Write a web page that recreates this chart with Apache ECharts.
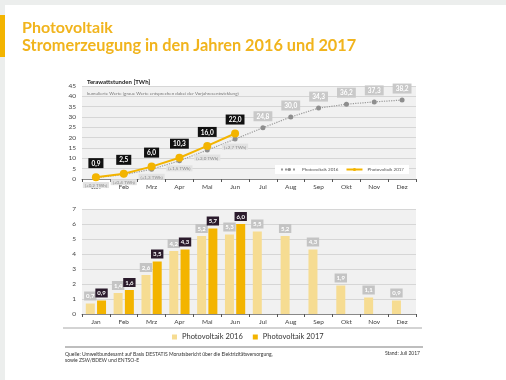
<!DOCTYPE html>
<html><head><meta charset="utf-8">
<script src="https://cdn.jsdelivr.net/npm/echarts@6/dist/echarts.min.js"></script>
<style>html,body{margin:0;padding:0;background:#fff}#c{width:506px;height:380px}</style>
</head><body><div id="c"></div>
<script>
const months = ['Jan','Feb','Mrz','Apr','Mai','Jun','Jul','Aug','Sep','Okt','Nov','Dez'];
const cum2016 = [0.7, 2.1, 4.7, 8.8, 14.0, 19.3, 24.8, 30.0, 34.3, 36.2, 37.3, 38.2];
const cum2017 = [0.9, 2.5, 6.0, 10.3, 16.0, 22.0];
const cumDiff = [0.2, 0.4, 1.3, 1.5, 2.0, 2.7];
const mon2016 = [0.7, 1.4, 2.6, 4.2, 5.2, 5.3, 5.5, 5.2, 4.3, 1.9, 1.1, 0.9];
const mon2017 = [0.9, 1.6, 3.5, 4.3, 5.7, 6.0];
const cumTicks = [0, 45, 5];
const monTicks = [0, 7, 1];

const fmt = v => Number(v).toFixed(1).replace('.', ',');
const FONT = 'Lato';
const chart = echarts.init(document.getElementById('c'), null, {renderer: 'canvas'});

const c16data = cum2016.map((v, i) => i < cumDiff.length ? {
  value: v,
  label: {position: 'bottom', distance: 2, formatter: '(+' + fmt(cumDiff[i]) + ' TWh)',
    backgroundColor: '#e2e2e2', color: '#8a8a8a', fontSize: 4.5, fontWeight: 'normal', padding: [1, 2, 0, 2]}
} : {value: v});

const catAxisCommon = {
  type: 'category', data: months, boundaryGap: true,
  axisLine: {lineStyle: {color: '#888', width: 1}},
  axisTick: {show: true, length: 3, lineStyle: {color: '#555'}},
  axisLabel: {fontSize: 6.5, color: '#444', margin: 4, fontFamily: FONT}
};
const valAxisCommon = {
  type: 'value',
  axisLine: {show: false}, axisTick: {show: false},
  axisLabel: {fontSize: 6.5, color: '#444', margin: 6, fontFamily: FONT},
  splitLine: {lineStyle: {color: '#d6d6d6', width: 1}}
};

chart.setOption({
  animation: false,
  textStyle: {fontFamily: FONT},
  grid: [
    {left: 82, right: 90, top: 86, height: 93, show: true, backgroundColor: '#f1f1f1', borderWidth: 0},
    {left: 82, right: 90, top: 209, height: 105, show: true, backgroundColor: '#f1f1f1', borderWidth: 0}
  ],
  xAxis: [
    Object.assign({gridIndex: 0}, catAxisCommon),
    Object.assign({gridIndex: 1}, catAxisCommon)
  ],
  yAxis: [
    Object.assign({gridIndex: 0, min: cumTicks[0], max: cumTicks[1], interval: cumTicks[2]}, valAxisCommon),
    Object.assign({gridIndex: 1, min: monTicks[0], max: monTicks[1], interval: monTicks[2]}, valAxisCommon)
  ],
  legend: [
    {
      left: 275, top: 165, backgroundColor: '#fff', padding: [2, 5], itemGap: 7,
      itemWidth: 16, itemHeight: 4,
      textStyle: {fontSize: 4.5, color: '#555', fontFamily: FONT},
      data: [{name: 'Photovoltaik 2016'}, {name: 'Photovoltaik 2017'}]
    },
    {
      left: 172, top: 333, padding: 0, itemGap: 10, itemWidth: 5, itemHeight: 5,
      textStyle: {fontSize: 7.5, color: '#333', fontFamily: FONT},
      data: [
        {name: 'Photovoltaik 2016', icon: 'rect', itemStyle: {color: '#f6dc92'}},
        {name: 'Photovoltaik 2017', icon: 'rect', itemStyle: {color: '#f3b400'}}
      ]
    }
  ],
  series: [
    {
      name: 'Photovoltaik 2016', type: 'line', xAxisIndex: 0, yAxisIndex: 0,
      data: c16data, symbol: 'circle', symbolSize: 5, z: 3,
      lineStyle: {color: '#9a9a9a', width: 1.2, type: 'dotted'},
      itemStyle: {color: '#8e8e8e'},
      label: {show: true, position: 'top', distance: 4, formatter: p => fmt(p.value),
        backgroundColor: '#c9c9c9', color: '#fff', fontSize: 6.5, fontWeight: 'bold', padding: [2, 3, 1, 3]}
    },
    {
      name: 'Photovoltaik 2017', type: 'line', xAxisIndex: 0, yAxisIndex: 0,
      data: cum2017, symbol: 'circle', symbolSize: 8, z: 4,
      lineStyle: {color: '#f3b400', width: 2},
      itemStyle: {color: '#f3b400'},
      label: {show: true, position: 'top', distance: 5, formatter: p => fmt(p.value),
        backgroundColor: '#111', color: '#fff', fontSize: 6.5, fontWeight: 'bold', padding: [2, 3, 1, 3]}
    },
    {
      name: 'Photovoltaik 2016', type: 'bar', xAxisIndex: 1, yAxisIndex: 1,
      data: mon2016, barWidth: 9, barGap: '25%',
      itemStyle: {color: '#f6dc92'},
      label: {show: true, position: 'top', distance: 3, formatter: p => fmt(p.value),
        backgroundColor: '#c4c4c4', color: '#fff', fontSize: 6, fontWeight: 'bold', padding: [2, 2, 1, 2]}
    },
    {
      name: 'Photovoltaik 2017', type: 'bar', xAxisIndex: 1, yAxisIndex: 1,
      data: mon2017, barWidth: 9, barGap: '25%',
      itemStyle: {color: '#f3b400'},
      label: {show: true, position: 'top', distance: 3, formatter: p => fmt(p.value),
        backgroundColor: '#2b1b2c', color: '#fff', fontSize: 6, fontWeight: 'bold', padding: [2, 2, 1, 2]}
    }
  ],
  graphic: [
    {type: 'rect', shape: {x: 0, y: 0, width: 506, height: 5}, style: {fill: '#eceeed'}, silent: true, z: -10},
    {type: 'rect', shape: {x: 0, y: 0, width: 5, height: 380}, style: {fill: '#eceeed'}, silent: true, z: -10},
    {type: 'rect', shape: {x: 0, y: 15, width: 5, height: 42}, style: {fill: '#f3b400'}, silent: true},
    {type: 'text', left: 22, top: 20, style: {text: 'Photovoltaik', fill: '#f1b41d', font: 'bold 16px Lato'}},
    {type: 'text', left: 22, top: 38, style: {text: 'Stromerzeugung in den Jahren 2016 und 2017', fill: '#f1b41d', font: 'bold 16.3px Lato'}},
    {type: 'text', left: 87, top: 79, style: {text: 'Terawattstunden [TWh]', fill: '#222', font: 'bold 6px Lato'}},
    {type: 'text', left: 87, top: 91, style: {text: 'kumulierte Werte (graue Werte entsprechen dabei der Vorjahresentwicklung)', fill: '#777', font: '4.5px Lato'}},
    {type: 'line', shape: {x1: 63, y1: 328, x2: 422, y2: 328}, style: {stroke: '#a8a8a8', lineWidth: 1}, silent: true},
    {type: 'line', shape: {x1: 65, y1: 347, x2: 423, y2: 347}, style: {stroke: '#a8a8a8', lineWidth: 1.5}, silent: true},
    {type: 'text', left: 65, top: 351, style: {text: 'Quelle: Umweltbundesamt auf Basis DESTATIS Monatsbericht über die Elektrizitätsversorgung,\nsowie ZSW/BDEW und ENTSO-E', fill: '#333', font: '5px Lato', lineHeight: 6.5}},
    {type: 'text', right: 86, top: 351, style: {text: 'Stand: Juli 2017', fill: '#333', font: '5px Lato'}}
  ]
});
</script>
</body></html>
